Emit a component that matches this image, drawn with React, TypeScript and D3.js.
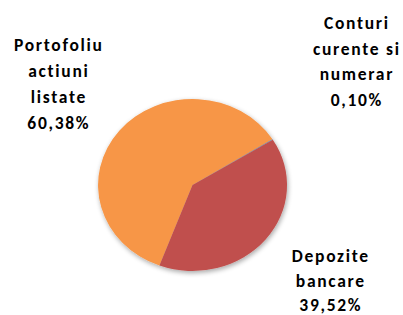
import React from "react";
import * as d3 from "d3";

const categories = ["Portofoliu actiuni listate", "Conturi curente si numerar", "Depozite bancare"];
const labelLines = [
  ["Portofoliu", "actiuni", "listate"],
  ["Conturi", "curente si", "numerar"],
  ["Depozite", "bancare"],
];
const values = [60.38, 0.1, 39.52];
const valueLabels = ["60,38%", "0,10%", "39,52%"];
const colors = ["#F79646", "#4F81BD", "#C0504D"];

const W = 403;
const H = 315;
const cx = 192.5;
const cy = 185;
const rx = 94.5;
const ry = 86;
const startDeg = 200.5;
// label block anchors (center x, first baseline y, line spacing)
const labelPos = [
  { x: 58, y: 51, lh: 26 },
  { x: 356, y: 29, lh: 25.7 },
  { x: 330, y: 262, lh: 24.5 },
];

export default function App() {
  const pie = d3
    .pie<number>()
    .sort(null)
    .value((d) => d)
    .startAngle((startDeg * Math.PI) / 180)
    .endAngle((startDeg * Math.PI) / 180 + 2 * Math.PI);
  const arcs = pie(values);
  const arc = d3.arc<d3.PieArcDatum<number>>().innerRadius(0).outerRadius(1);

  return (
    <svg
      width={W}
      height={H}
      style={{ position: "absolute", left: 0, top: 0, display: "block", background: "#fff" }}
    >
      <defs>
        <filter id="sh" x="-20%" y="-20%" width="140%" height="140%">
          <feGaussianBlur in="SourceAlpha" stdDeviation="2.5" />
          <feOffset dx="1" dy="1.5" result="b" />
          <feComponentTransfer>
            <feFuncA type="linear" slope="0.35" />
          </feComponentTransfer>
          <feMerge>
            <feMergeNode />
            <feMergeNode in="SourceGraphic" />
          </feMerge>
        </filter>
      </defs>
      <g filter="url(#sh)">
        <g transform={`translate(${cx},${cy}) scale(${rx},${ry})`}>
          {arcs.map((a, i) => (
            <path key={categories[i]} d={arc(a) || ""} fill={colors[i]} />
          ))}
        </g>
      </g>
      {labelLines.map((lines, i) => (
        <text
          key={categories[i]}
          textAnchor="middle"
          fontFamily="Carlito, Lato, 'Open Sans', sans-serif"
          fontWeight="bold"
          fontSize={17.5}
          letterSpacing={1.7}
          fill="#000"
        >
          {[...lines, valueLabels[i]].map((t, j) => (
            <tspan key={j} x={labelPos[i].x + 0.85} y={labelPos[i].y + j * labelPos[i].lh}>
              {t}
            </tspan>
          ))}
        </text>
      ))}
    </svg>
  );
}
